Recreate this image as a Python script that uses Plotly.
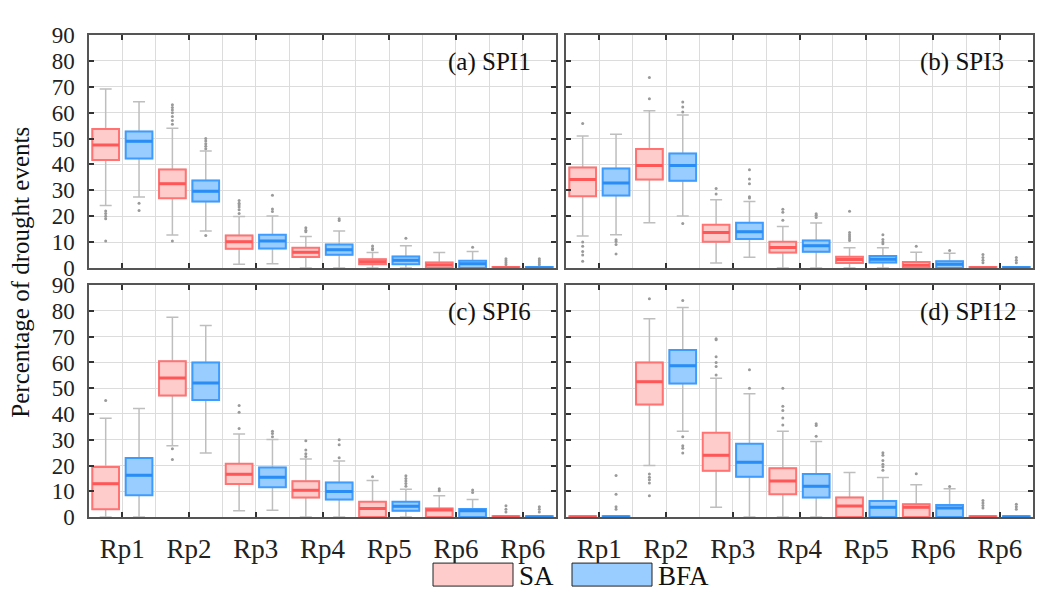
import plotly.graph_objects as go
from plotly.subplots import make_subplots

categories = ["Rp1", "Rp2", "Rp3", "Rp4", "Rp5", "Rp6", "Rp6"]
y_ticks = [0, 10, 20, 30, 40, 50, 60, 70, 80, 90]
panel_titles = ["(a) SPI1", "(b) SPI3", "(c) SPI6", "(d) SPI12"]
series_names = ["SA", "BFA"]
y_title = "Percentage of drought events"

# each row: [lower whisker, q1, median, q3, upper whisker]
spi1_sa = [[24.1, 41.7, 47.5, 53.7, 69.1], [12.7, 26.9, 32.5, 38.0, 54.0], [1.4, 7.4, 10.1, 12.5, 19.9],
           [0, 4.2, 6.0, 7.8, 12.1], [0, 1.4, 2.4, 3.3, 5.9], [0, 0, 1.1, 2.1, 5.9], [0, 0, 0, 0.3, 0.3]]
spi1_bfa = [[27.4, 42.3, 48.9, 52.7, 64.2], [14.3, 25.7, 29.6, 33.8, 45.2], [1.6, 7.5, 10.4, 12.8, 20.1],
            [0, 5.1, 7.0, 9.0, 14.3], [0, 1.4, 3.0, 4.4, 8.6], [0, 0, 1.6, 2.8, 6.3], [0, 0, 0, 0.3, 0.3]]
spi3_sa = [[12.3, 27.7, 34.2, 38.8, 51.0], [17.4, 34.2, 39.6, 45.9, 60.7], [1.9, 10.1, 13.7, 16.7, 26.3],
           [0, 5.9, 7.9, 10.1, 16.0], [0, 1.9, 3.2, 4.3, 7.8], [0, 0, 1.0, 2.3, 6.0], [0, 0, 0, 0.3, 0.3]]
spi3_bfa = [[12.8, 28.0, 32.8, 38.4, 51.6], [20.1, 33.7, 39.6, 44.2, 59.1], [4.1, 11.2, 14.0, 17.4, 25.7],
            [0, 6.2, 8.6, 10.6, 17.3], [0, 2.1, 3.3, 4.6, 7.8], [0, 0, 1.4, 2.6, 5.7], [0, 0, 0, 0.3, 0.3]]
spi6_sa = [[0, 3.0, 12.9, 19.4, 38.3], [27.7, 47.2, 54.0, 60.5, 77.5], [2.5, 12.8, 16.6, 20.7, 32.2],
           [0, 7.6, 10.4, 13.9, 22.5], [0, 0, 3.3, 5.9, 14.2], [0, 0, 2.7, 3.3, 8.3], [0, 0, 0, 0.3, 0.3]]
spi6_bfa = [[0, 8.5, 16.2, 22.9, 42.1], [24.9, 45.4, 52.0, 60.0, 74.3], [2.6, 11.6, 15.5, 19.2, 30.1],
            [0, 6.8, 9.9, 13.4, 21.8], [0, 2.5, 4.2, 5.9, 10.8], [0, 0, 2.5, 3.1, 6.8], [0, 0, 0, 0.3, 0.3]]
spi12_sa = [[0, 0, 0, 0.3, 0.3], [20.0, 43.7, 52.5, 60.0, 77.0], [3.8, 18.0, 24.0, 32.7, 53.9],
            [0, 8.9, 14.0, 18.9, 33.3], [0, 0, 4.3, 7.6, 17.3], [0, 0, 3.8, 5.0, 12.5], [0, 0, 0, 0.3, 0.3]]
spi12_bfa = [[0, 0, 0, 0.3, 0.3], [33.3, 51.8, 58.7, 64.8, 81.3], [0, 15.6, 21.3, 28.5, 47.9],
             [0, 7.6, 12.0, 16.7, 29.3], [0, 0, 3.8, 6.2, 15.4], [0, 0, 3.5, 4.7, 11.0], [0, 0, 0, 0.3, 0.3]]

# outliers per category
spi1_sa_out = [[22, 21, 20, 19, 10.4], [63, 62, 61, 60, 58.5, 57, 55.5, 10.4], [26, 25, 24.3, 23.5, 22.5, 21],
               [15.5, 14.5, 14], [8.5, 7.5, 7], [], [1.2, 2, 2.8, 3.5]]
spi1_bfa_out = [[25, 22.2], [50, 49, 48, 47, 46, 12.5], [28.1, 22.8, 21.8], [19, 18.3], [11.5], [8],
                [1.2, 2, 2.8, 3.5]]
spi3_sa_out = [[55.8, 10, 8.4, 6.3, 5, 2.6], [73.6, 65.4], [30.7, 28.6], [22.7, 21.5, 18.4],
               [21.9, 13.7, 12.8, 12, 11.3, 10.6], [8.4], [2, 3, 4, 5.2]]
spi3_bfa_out = [[10.9, 10.2, 9, 5.4], [64.1, 62.2, 60.2, 17.2], [37.9, 34.4, 32.5, 27.5, 27],
                [20.9, 20.3, 19.5], [12.8, 11, 10, 9.3], [6.7], [2, 3, 4]]
spi6_sa_out = [[45.2], [26.5, 22.3], [43.3, 40.7, 34.4], [29.6, 26, 24.6, 23.5], [15.6], [11, 10.2],
               [2, 3, 4.4]]
spi6_bfa_out = [[], [], [33.3, 32.4, 31.2], [30, 28.1, 23], [16, 15, 14, 13, 12], [10.5, 9.5], [2, 3, 4]]
spi12_sa_out = [[], [84.7, 16.7, 15.5, 14.5, 13.2, 8.3], [69.2, 68.8, 62.2, 60, 58.4, 55.1],
                [50, 43, 41.4, 38.4, 35.7], [], [16.8], [3.5, 4.5, 5.5, 6.4]]
spi12_bfa_out = [[16.1, 8.9, 4, 3], [84, 31.2, 27.7, 26.7, 24.9], [57.2, 50], [36.2, 35.5, 31.4],
                 [25, 24, 22, 20.5, 19.5, 18.2], [11.9], [3, 4, 5]]

panels = [
    (spi1_sa, spi1_bfa, spi1_sa_out, spi1_bfa_out),
    (spi3_sa, spi3_bfa, spi3_sa_out, spi3_bfa_out),
    (spi6_sa, spi6_bfa, spi6_sa_out, spi6_bfa_out),
    (spi12_sa, spi12_bfa, spi12_sa_out, spi12_bfa_out),
]

FONT = "Liberation Serif"
fill_cols = {"SA": "#FFCCCC", "BFA": "#99CCFF"}
edge_cols = {"SA": "#FF7373", "BFA": "#3E9CFF"}
med_cols = {"SA": "#FF5757", "BFA": "#2A8CF5"}
WHISK = "#BEBEBE"
OUTC = "#9A9A9A"
GRID = "#DCDCDC"
AXC = "#555555"

fig = make_subplots(rows=2, cols=2)
cells = [(1, 1), (1, 2), (2, 1), (2, 2)]
offsets = {"SA": -0.25, "BFA": 0.25}

for (r, c), (sa, bfa, sa_out, bfa_out) in zip(cells, panels):
    for name, stats, outs in (("SA", sa, sa_out), ("BFA", bfa, bfa_out)):
        xs = [i + 1 + offsets[name] for i in range(len(categories))]
        lo = [s[0] for s in stats]
        q1 = [s[1] for s in stats]
        md = [s[2] for s in stats]
        q3 = [s[3] for s in stats]
        hi = [s[4] for s in stats]
        # whiskers (grey)
        fig.add_trace(go.Box(x=xs, q1=q1, median=md, q3=q3, lowerfence=lo, upperfence=hi,
                             width=0.4, whiskerwidth=0.45, boxpoints=False,
                             line=dict(color=WHISK, width=1.5), fillcolor="rgba(0,0,0,0)",
                             showlegend=False, hoverinfo="skip"), row=r, col=c)
        # coloured box
        fig.add_trace(go.Box(x=xs, q1=q1, median=md, q3=q3, lowerfence=q1, upperfence=q3,
                             width=0.4, whiskerwidth=0, boxpoints=False,
                             line=dict(color=edge_cols[name], width=2), fillcolor=fill_cols[name],
                             showlegend=False, name=name), row=r, col=c)
        # thicker median
        fig.add_trace(go.Box(x=xs, q1=md, median=md, q3=md, lowerfence=md, upperfence=md,
                             width=0.4, whiskerwidth=0, boxpoints=False,
                             line=dict(color=med_cols[name], width=3), fillcolor="rgba(0,0,0,0)",
                             showlegend=False, hoverinfo="skip"), row=r, col=c)
        # outliers
        ox, oy = [], []
        for xv, vals in zip(xs, outs):
            for v in vals:
                ox.append(xv)
                oy.append(v)
        fig.add_trace(go.Scatter(x=ox, y=oy, mode="markers",
                                 marker=dict(size=3, color=OUTC),
                                 showlegend=False, hoverinfo="skip"), row=r, col=c)

W, H = 1040, 601
xdom = {1: [89 / W, 556 / W], 2: [566 / W, 1033 / W]}
ydom = {1: [1 - 267 / H, 1 - 24 / H], 2: [1 - 527 / H, 1 - 285 / H]}

for idx, (r, c) in enumerate(cells):
    fig.update_xaxes(row=r, col=c, domain=xdom[c], range=[0.5, 7.5],
                     tickmode="array", tickvals=list(range(1, 8)), ticktext=categories,
                     showticklabels=(r == 2), ticks="inside", ticklen=5, tickwidth=1.5,
                     tickcolor="#333", showline=True, linecolor=AXC, linewidth=1.5, mirror="ticks",
                     showgrid=True, gridcolor=GRID, gridwidth=1, zeroline=False,
                     minor=dict(tickvals=[1.5, 2.5, 3.5, 4.5, 5.5, 6.5], showgrid=True,
                                gridcolor=GRID, gridwidth=1, ticks=""),
                     tickfont=dict(family=FONT, size=27, color="#222"), ticklabelstandoff=7)
    fig.update_yaxes(row=r, col=c, domain=ydom[r], range=[0, 90],
                     tickmode="array", tickvals=y_ticks,
                     showticklabels=(c == 1), ticks="inside", ticklen=5, tickwidth=1.5,
                     tickcolor="#333", showline=True, linecolor=AXC, linewidth=1.5, mirror="ticks",
                     showgrid=True, gridcolor=GRID, gridwidth=1, zeroline=False,
                     tickfont=dict(family=FONT, size=23, color="#222"), ticklabelstandoff=8)

annotations = []
label_pos = [(446, 52), (918, 52), (446, 313), (918, 313)]
for t, (px, py) in zip(panel_titles, label_pos):
    annotations.append(dict(text=t, x=px / W, y=1 - py / H, xref="paper", yref="paper",
                            xanchor="left", yanchor="middle", showarrow=False,
                            font=dict(family=FONT, size=25, color="#111")))
annotations.append(dict(text=y_title, x=21 / W, y=1 - 272 / H, xref="paper", yref="paper",
                        xanchor="center", yanchor="middle", showarrow=False, textangle=-90,
                        font=dict(family=FONT, size=25, color="#111")))

shapes = []
leg_boxes = [(433, 513, "SA"), (572, 652, "BFA")]
for x0, x1, nm in leg_boxes:
    shapes.append(dict(type="rect", xref="paper", yref="paper", x0=x0 / W, x1=x1 / W,
                       y0=1 - 599 / H, y1=1 - 575 / H, fillcolor=fill_cols[nm],
                       line=dict(color="#222", width=1)))
    annotations.append(dict(text=nm, x=(x1 + 4) / W, y=1 - 588 / H, xref="paper", yref="paper",
                            xanchor="left", yanchor="middle", showarrow=False,
                            font=dict(family=FONT, size=27, color="#111")))

fig.update_layout(width=W, height=H, margin=dict(l=0, r=0, t=0, b=0),
                  paper_bgcolor="white", plot_bgcolor="white", boxmode="overlay",
                  annotations=annotations, shapes=shapes, showlegend=False)

fig.write_html("out.html", config={"displayModeBar": False},
               post_script="document.body.style.margin='0';document.body.style.overflow='hidden';")
